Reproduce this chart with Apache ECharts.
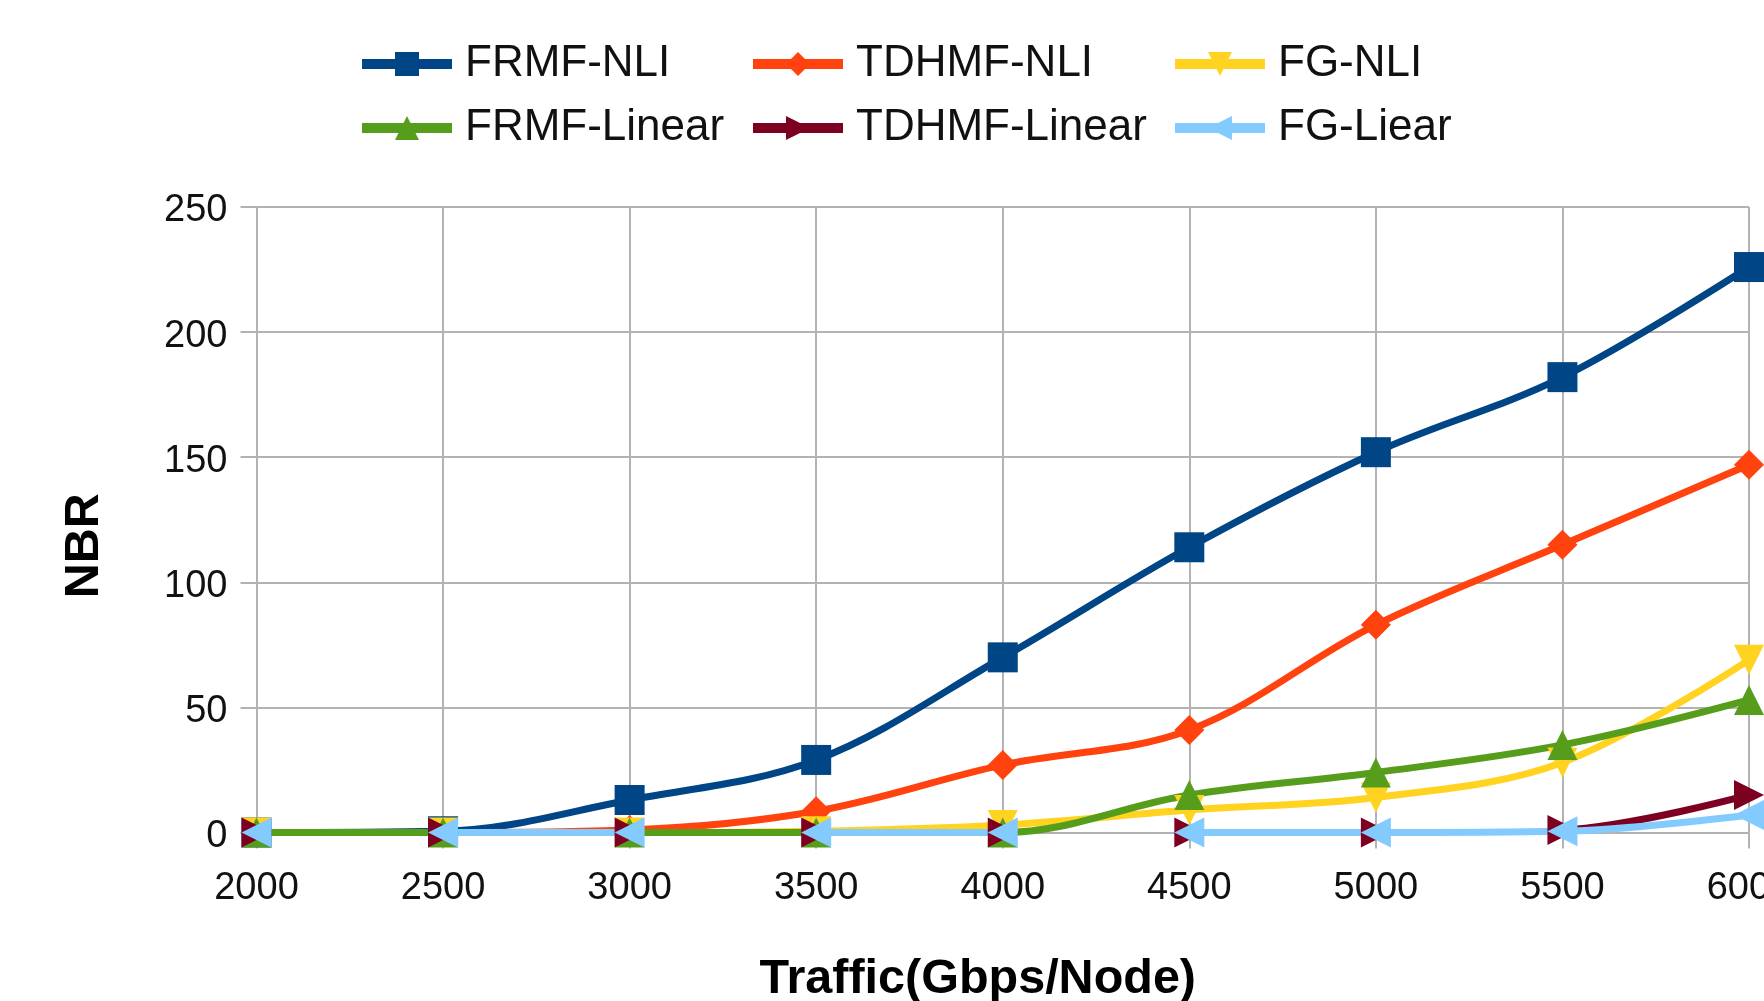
<!DOCTYPE html>
<html>
<head>
<meta charset="utf-8">
<script src="https://cdn.jsdelivr.net/npm/echarts@6/dist/echarts.min.js"></script>
<style>
html,body{margin:0;padding:0;background:#fff;}
#chart{width:1764px;height:1001px;}
</style>
</head>
<body>
<div id="chart"></div>
<script>
const categories = ['2000','2500','3000','3500','4000','4500','5000','5500','6000'];
const frmfNLI    = [0, 0.5, 13, 29, 70, 114, 152, 182, 226];
const tdhmfNLI   = [0, 0, 1, 8.5, 27, 41, 83, 115, 147];
const fgNLI      = [0, 0, 0, 0.5, 3, 9, 14, 28, 69];
const frmfLinear = [0, 0, 0, 0, 0, 15, 24, 35, 53];
const tdhmfLinear= [0, 0, 0, 0, 0, 0, 0, 1, 15];
const fgLinear   = [0, 0, 0, 0, 0, 0, 0, 0.5, 7];
const yTicks = [0, 50, 100, 150, 200, 250];

const FONT = 'Liberation Sans, Arial, sans-serif';
const colors = ['#004586','#ff420e','#ffd320','#579d1c','#7e0021','#83caff'];

function mk(name, data, color, symbol, rot) {
  return {
    name: name, type: 'line', data: data, smooth: 0.35,
    symbol: symbol, symbolSize: 30, symbolRotate: rot || 0,
    showAllSymbol: true,
    lineStyle: {width: 7},
    itemStyle: {color: color},
    emphasis: {disabled: true},
    z: 2
  };
}

// segments of the zero-level lines that are not drawn in the original (line sits below the plot edge)
function gapPieces(color, lastGapEnd) {
  const T = 'rgba(255,255,255,0)';
  return [
    {lte: 0, color: color},
    {gt: 0, lt: 1, color: T},
    {gte: 1, lte: 2, color: color},
    {gt: 2, lt: 3, color: T},
    {gte: 3, lte: 4, color: color},
    {gt: 4, lt: 5, color: T},
    {gte: 5, lte: 6, color: color},
    {gt: 6, lt: lastGapEnd, color: T},
    {gte: lastGapEnd, color: color}
  ];
}

const legendBase = {
  orient: 'vertical', top: 42, padding: 0, itemWidth: 90, itemHeight: 30, itemGap: 20,
  textStyle: {fontFamily: FONT, fontSize: 44, lineHeight: 42, color: '#111', padding: [0,0,0,8]},
  lineStyle: {width: 10},
  selectedMode: false
};

const chart = echarts.init(document.getElementById('chart'));
chart.setOption({
  animation: false,
  backgroundColor: '#fff',
  color: colors,
  legend: [
    Object.assign({}, legendBase, {left: 357, data: ['FRMF-NLI','FRMF-Linear']}),
    Object.assign({}, legendBase, {left: 748, data: ['TDHMF-NLI','TDHMF-Linear']}),
    Object.assign({}, legendBase, {left: 1170, data: ['FG-NLI','FG-Liear']})
  ],
  visualMap: [
    {type: 'piecewise', show: false, dimension: 0, seriesIndex: 4, pieces: gapPieces(colors[4], 6.82)},
    {type: 'piecewise', show: false, dimension: 0, seriesIndex: 5, pieces: gapPieces(colors[5], 6.4)}
  ],
  grid: {left: 256.5, right: 15, top: 207, bottom: 168.5, outerBoundsMode: 'none', containLabel: false},
  xAxis: {
    type: 'category', data: categories, boundaryGap: false,
    name: 'Traffic(Gbps/Node)', nameLocation: 'middle', nameGap: 123,
    nameTextStyle: {fontFamily: FONT, fontSize: 48.5, fontWeight: 'bold', color: '#000', lineHeight: 48, padding: [0, 50, 0, 0]},
    axisLine: {lineStyle: {color: '#b3b3b3', width: 2}},
    axisTick: {show: true, inside: false, length: 16, lineStyle: {color: '#b3b3b3', width: 2}},
    axisLabel: {fontFamily: FONT, fontSize: 38, color: '#111', margin: 37},
    splitLine: {show: true, lineStyle: {color: '#b3b3b3', width: 2}}
  },
  yAxis: {
    type: 'value', min: 0, max: 250, interval: 50,
    name: 'NBR', nameLocation: 'middle', nameGap: 148,
    nameTextStyle: {fontFamily: FONT, fontSize: 48.5, fontWeight: 'bold', color: '#000', lineHeight: 48, padding: [0, 52, 0, 0]},
    axisLine: {show: true, lineStyle: {color: '#b3b3b3', width: 2}},
    axisTick: {show: true, length: 16, lineStyle: {color: '#b3b3b3', width: 2}},
    axisLabel: {fontFamily: FONT, fontSize: 38, color: '#111', margin: 29, lineHeight: 46, verticalAlign: 'top', padding: [-19, 0, 0, 0],
      formatter: function(v){ return yTicks.indexOf(v) >= 0 ? String(v) : ''; }},
    splitLine: {show: true, lineStyle: {color: '#b3b3b3', width: 2}}
  },
  series: [
    mk('FRMF-NLI', frmfNLI, colors[0], 'rect'),
    mk('TDHMF-NLI', tdhmfNLI, colors[1], 'diamond'),
    mk('FG-NLI', fgNLI, colors[2], 'triangle', 180),
    mk('FRMF-Linear', frmfLinear, colors[3], 'triangle'),
    mk('TDHMF-Linear', tdhmfLinear, colors[4], 'triangle', -90),
    mk('FG-Liear', fgLinear, colors[5], 'triangle', 90)
  ]
});
</script>
</body>
</html>
